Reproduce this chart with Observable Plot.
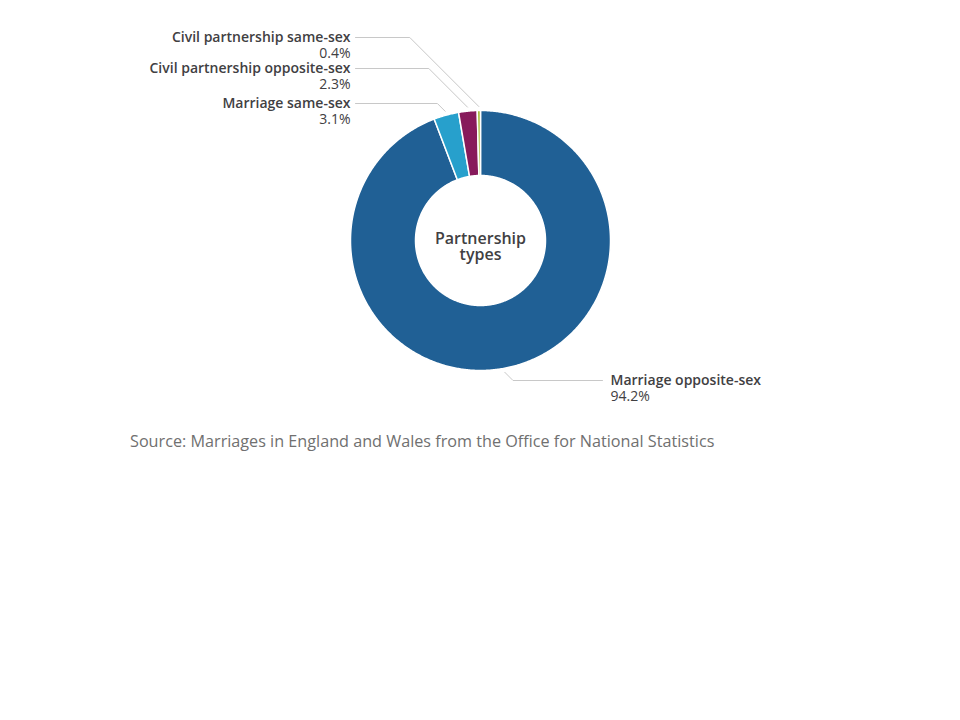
<!DOCTYPE html>
<html><head><meta charset="utf-8">
<script src="https://cdn.jsdelivr.net/npm/d3@7"></script>
<script src="https://cdn.jsdelivr.net/npm/@observablehq/plot@0.6"></script>
<style>
body{margin:0;background:#fff;font-family:"Open Sans",sans-serif;}
#chart{width:960px;height:425px;}
.source{margin:0;padding:5px 0 0 130px;font-size:16.2px;color:#707070;line-height:22px;font-family:"Open Sans",sans-serif;}
</style></head><body>
<div id="chart"></div>
<p class="source">Source: Marriages in England and Wales from the Office for National Statistics</p>
<script>
// ---- data ----
const categories = ["Marriage opposite-sex", "Marriage same-sex", "Civil partnership opposite-sex", "Civil partnership same-sex"];
const shares = [94.2, 3.1, 2.3, 0.4];
const valueLabels = ["94.2%", "3.1%", "2.3%", "0.4%"];
const colors = ["#206095", "#27a0cc", "#871a5b", "#a8bd3a"];
const centerLabel = ["Partnership", "types"];

// ---- layout (pixels) ----
const W = 960, H = 425, CX = 480, CY = 240, R = 130, RI = 65;
const labelPixelY = [380, 103, 68, 37];
const lineStartR = R + 4;

const toY = py => CY - py; // pixel y -> data y (up is positive)

const pie = d3.pie().sort(null).value(d => d.v)(categories.map((c, i) => ({c, v: shares[i], i})));

function arcPoints(a0, a1) {
  const pts = [];
  const n = Math.max(2, Math.ceil((a1 - a0) / (Math.PI / 360)));
  for (let k = 0; k <= n; k++) {
    const a = a0 + (a1 - a0) * k / n;
    pts.push({x: R * Math.sin(a), y: R * Math.cos(a)});
  }
  for (let k = n; k >= 0; k--) {
    const a = a0 + (a1 - a0) * k / n;
    pts.push({x: RI * Math.sin(a), y: RI * Math.cos(a)});
  }
  return pts;
}

const sliceMarks = pie.map(p => Plot.line(arcPoints(p.startAngle, p.endAngle), {
  x: "x", y: "y", fill: colors[p.data.i], stroke: "white", strokeWidth: 1.5, curve: "linear-closed"
}));

const labels = pie.map((p, i) => {
  const mid = (p.startAngle + p.endAngle) / 2;
  const side = Math.sin(mid) < 0 ? -1 : 1;
  const sx = lineStartR * Math.sin(mid), sy = lineStartR * Math.cos(mid);
  const ly = toY(labelPixelY[i]);
  const kx = sx + side * Math.abs(ly - sy);
  const ex = side < 0 ? -125 : 122;
  const tx = side < 0 ? -130 : 130;
  return {name: categories[i], value: valueLabels[i], side, tx, ly,
    line: [{x: sx, y: sy}, {x: kx, y: ly}, {x: ex, y: ly}]};
});

const leaderMarks = labels.map(l => Plot.line(l.line, {x: "x", y: "y", stroke: "#c8c8c8", strokeWidth: 1}));

const leftLabels = labels.filter(l => l.side < 0), rightLabels = labels.filter(l => l.side > 0);

const textMarks = [
  Plot.text(leftLabels, {x: "tx", y: "ly", text: "name", textAnchor: "end", fontSize: 14, fontWeight: 600, fill: "#414042"}),
  Plot.text(leftLabels, {x: "tx", y: "ly", text: "value", textAnchor: "end", dy: 16, fontSize: 14, fill: "#414042"}),
  Plot.text(rightLabels, {x: "tx", y: "ly", text: "name", textAnchor: "start", fontSize: 14, fontWeight: 600, fill: "#414042"}),
  Plot.text(rightLabels, {x: "tx", y: "ly", text: "value", textAnchor: "start", dy: 16, fontSize: 14, fill: "#414042"}),
  Plot.text(centerLabel.map((t, i) => ({t, i})), {x: () => 0, y: d => 2 - d.i * 16, text: "t", fontSize: 16, fontWeight: 600, fill: "#414042"})
];

const chart = Plot.plot({
  width: W, height: H, margin: 0,
  x: {domain: [-CX, W - CX], range: [0, W], axis: null},
  y: {domain: [-(H - CY), CY], range: [H, 0], axis: null},
  style: {fontFamily: "'Open Sans', sans-serif", background: "white", overflow: "visible"},
  marks: [...sliceMarks, ...leaderMarks, ...textMarks]
});
document.getElementById("chart").appendChild(chart);
</script>
</body></html>
